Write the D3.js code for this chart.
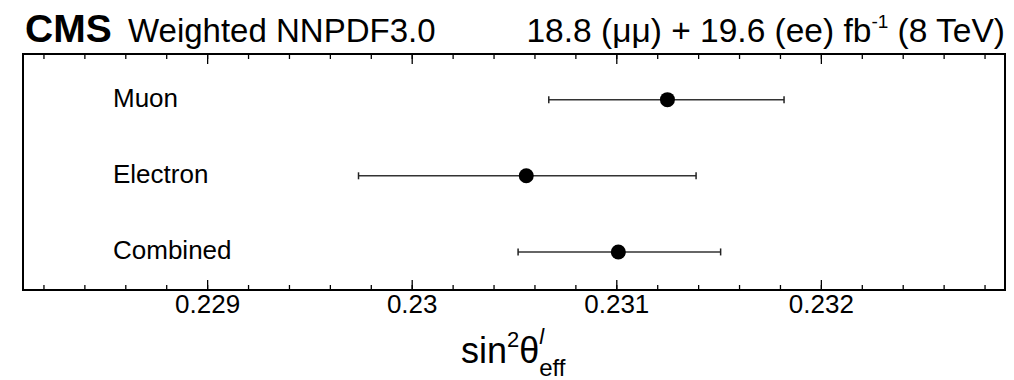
<!DOCTYPE html>
<html><head><meta charset="utf-8">
<script src="https://cdn.jsdelivr.net/npm/d3@7"></script>
<style>
html,body{margin:0;padding:0;background:#fff;}
svg{display:block;font-family:"Liberation Sans",Arial,Helvetica,sans-serif;}
</style></head>
<body>
<svg id="chart" width="1014" height="380"></svg>
<script>
// ---- data ----
const categories = ["Muon", "Electron", "Combined"];
const centralValues = [0.23125, 0.23056, 0.23101];
const errLow = [0.23067, 0.22974, 0.23052];
const errHigh = [0.23182, 0.23139, 0.23151];
const majorTicks = [0.229, 0.230, 0.231, 0.232];
const majorTickLabels = ["0.229", "0.23", "0.231", "0.232"];
const categoryRows = [3, 2, 1];

const W = 1014, H = 380;
const frame = {left: 23, right: 1005, top: 54, bottom: 290};
const svg = d3.select("#chart");

const x = d3.scaleLinear().domain([0.22810, 0.23290]).range([frame.left, frame.right]);
const y = d3.scaleLinear().domain([0.5, 3.6]).range([frame.bottom, frame.top]);

// minor ticks
const minor = x.ticks(25);
const axB = d3.axisBottom(x).tickValues(minor).tickSize(-5).tickFormat("");
const axT = d3.axisTop(x).tickValues(minor).tickSize(-5).tickFormat("");
const gB = svg.append("g").attr("transform", `translate(0,${frame.bottom})`).call(axB);
const gT = svg.append("g").attr("transform", `translate(0,${frame.top})`).call(axT);
const axBM = d3.axisBottom(x).tickValues(majorTicks).tickSize(-10).tickPadding(5)
  .tickFormat((d, i) => majorTickLabels[i]);
const axTM = d3.axisTop(x).tickValues(majorTicks).tickSize(-10).tickFormat("");
const gBM = svg.append("g").attr("transform", `translate(0,${frame.bottom})`).call(axBM);
const gTM = svg.append("g").attr("transform", `translate(0,${frame.top})`).call(axTM);
[gB, gT, gBM, gTM].forEach(g => {
  g.select(".domain").remove();
  g.selectAll(".tick line").attr("stroke", "#000").attr("stroke-width", 1.3);
});
gBM.selectAll(".tick text").attr("font-size", 26).attr("fill", "#000")
  .attr("font-family", "Liberation Sans, Arial, sans-serif");

// frame
svg.append("rect").attr("x", frame.left).attr("y", frame.top)
  .attr("width", frame.right - frame.left).attr("height", frame.bottom - frame.top)
  .attr("fill", "none").attr("stroke", "#000").attr("stroke-width", 2);

// data rows
const rows = categories.map((c, i) => ({c, v: centralValues[i], lo: errLow[i], hi: errHigh[i], r: categoryRows[i]}));
const g = svg.append("g");
g.selectAll("line.err").data(rows).join("line").attr("class", "err")
  .attr("x1", d => x(d.lo)).attr("x2", d => x(d.hi))
  .attr("y1", d => y(d.r)).attr("y2", d => y(d.r))
  .attr("stroke", "#333").attr("stroke-width", 1.5);
g.selectAll("line.capl").data(rows).join("line").attr("class", "capl")
  .attr("x1", d => x(d.lo)).attr("x2", d => x(d.lo))
  .attr("y1", d => y(d.r) - 3.5).attr("y2", d => y(d.r) + 3.5)
  .attr("stroke", "#222").attr("stroke-width", 1.5);
g.selectAll("line.caph").data(rows).join("line").attr("class", "caph")
  .attr("x1", d => x(d.hi)).attr("x2", d => x(d.hi))
  .attr("y1", d => y(d.r) - 3.5).attr("y2", d => y(d.r) + 3.5)
  .attr("stroke", "#222").attr("stroke-width", 1.5);
g.selectAll("circle").data(rows).join("circle")
  .attr("cx", d => x(d.v)).attr("cy", d => y(d.r)).attr("r", 7.5).attr("fill", "#000");
g.selectAll("text.lab").data(rows).join("text").attr("class", "lab")
  .attr("x", 113).attr("y", d => y(d.r) + 7.5).attr("font-size", 26).attr("fill", "#000")
  .text(d => d.c);

// header
const hdr = svg.append("text").attr("x", 25).attr("y", 42).attr("fill", "#000");
hdr.append("tspan").attr("font-weight", "bold").attr("font-size", 39).text("CMS");
hdr.append("tspan").attr("x", 128).attr("font-size", 33).text("Weighted NNPDF3.0");

const rt = svg.append("text").attr("x", 1005).attr("y", 42).attr("text-anchor", "end")
  .attr("font-size", 33.5).attr("fill", "#000");
rt.append("tspan").text("18.8 (\u03BC\u03BC) + 19.6 (ee) fb");
rt.append("tspan").attr("font-size", 19).attr("dy", -14).text("-1");
rt.append("tspan").attr("dy", 14).text(" (8 TeV)");

// axis title
const at = svg.append("text").attr("x", 461).attr("y", 363).attr("text-anchor", "start")
  .attr("font-size", 36).attr("fill", "#000");
at.append("tspan").text("sin");
at.append("tspan").attr("font-size", 22).attr("dy", -16).text("2");
at.append("tspan").attr("dy", 16).text("\u03B8");
at.append("tspan").attr("font-size", 22).attr("dy", -19).attr("font-style", "italic").text("l");
at.append("tspan").attr("font-size", 24).attr("dy", 32).attr("dx", -5).text("eff");
</script>
</body></html>
